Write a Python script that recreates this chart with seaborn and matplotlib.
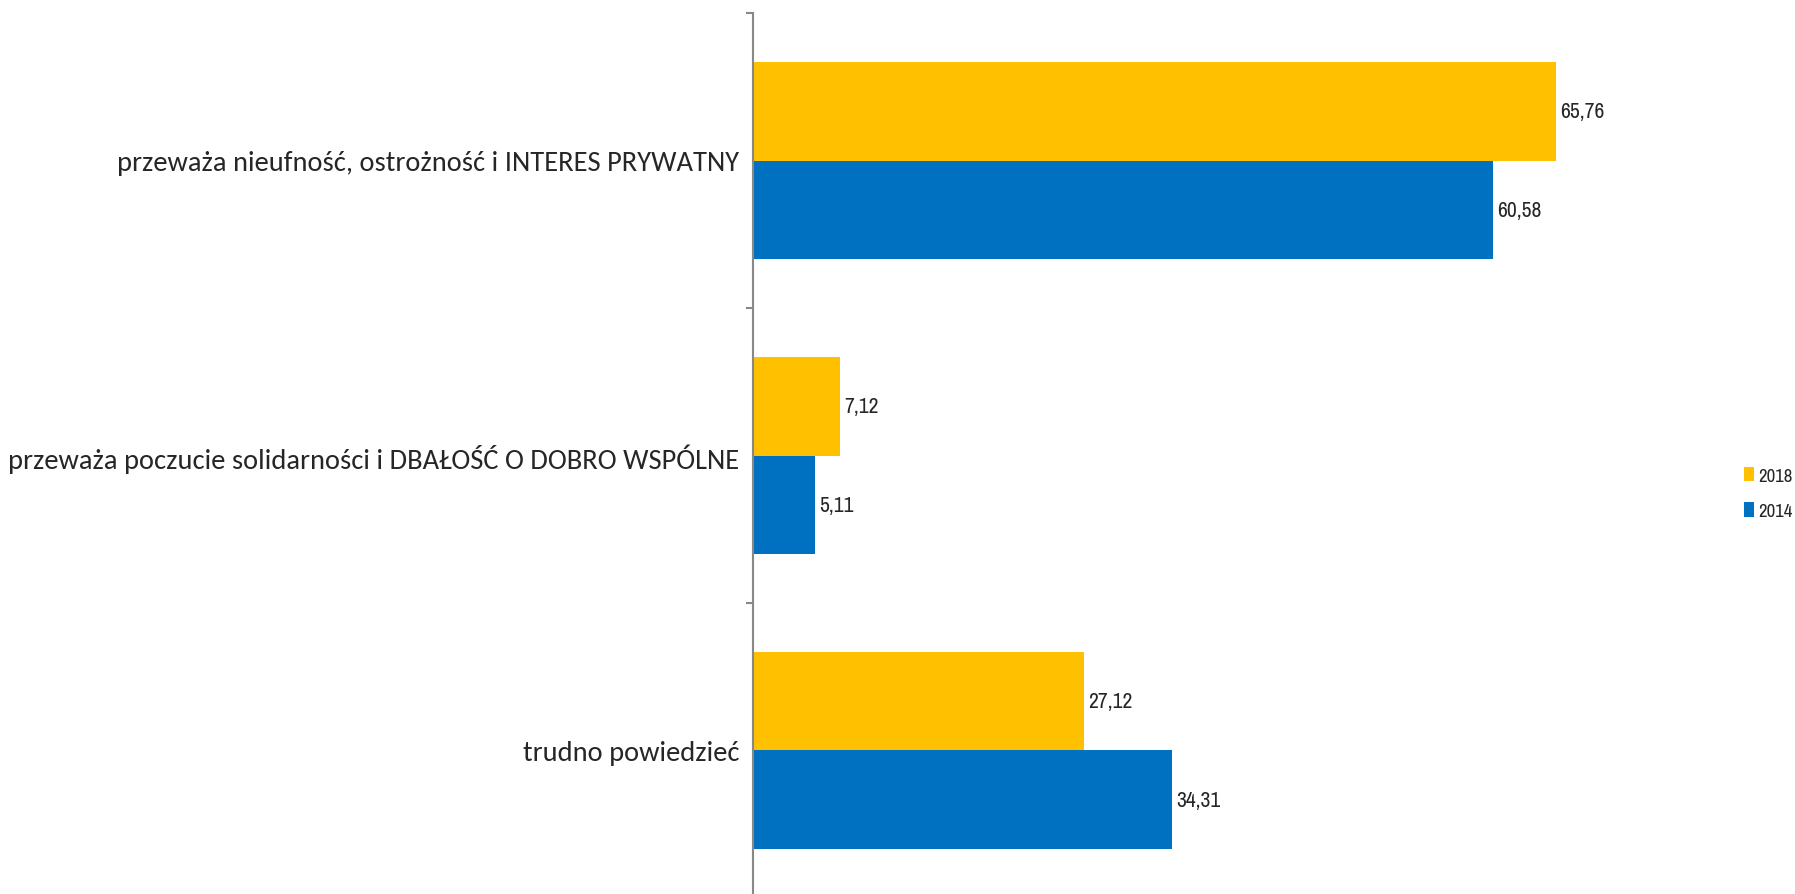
import pandas as pd
import numpy as np
import matplotlib.pyplot as plt
import seaborn as sb

categories = ["przeważa nieufność, ostrożność i INTERES PRYWATNY",
              "przeważa poczucie solidarności i DBAŁOŚĆ O DOBRO WSPÓLNE",
              "trudno powiedzieć"]
years = ["2018", "2014"]
vals_2018 = [65.76, 7.12, 27.12]
vals_2014 = [60.58, 5.11, 34.31]
colors = {"2018": "#FFC000", "2014": "#0070C0"}

df = pd.DataFrame({
    "kategoria": categories * 2,
    "rok": ["2018"] * 3 + ["2014"] * 3,
    "wartosc": vals_2018 + vals_2014,
})

sb.set_style("white")
narrow = ["Archivo Narrow", "DejaVu Sans"]
calibri = ["Carlito", "DejaVu Sans"]

fig = plt.figure(figsize=(17.95, 8.95), dpi=100)
ax = fig.add_axes([753 / 1795, 1 - 899 / 895, 855 / 1795, 885 / 895])

sb.barplot(data=df, y="kategoria", x="wartosc", hue="rok", hue_order=years,
           palette=colors, orient="h", width=0.665, saturation=1, ax=ax,
           order=categories, legend=True, linewidth=0)

for cont in ax.containers:
    labels = [f"{v:.2f}".replace(".", ",") for v in cont.datavalues]
    ax.bar_label(cont, labels=labels, padding=3, fontsize=15.5, family=narrow)

ax.set_xlim(0, 70)
ax.set_ylim(2.5, -0.5)
ax.set_xlabel("")
ax.set_ylabel("")
ax.set_xticks([])
ax.set_yticks(range(3))
ax.set_yticklabels(categories, fontsize=20.5, family=calibri)
ax.tick_params(axis="y", which="major", length=0, pad=10)
ax.set_yticks([-0.5, 0.5, 1.5, 2.5], minor=True)
ax.tick_params(axis="y", which="minor", length=5, width=1.5, color="#888888", left=True)

for s in ["top", "right", "bottom"]:
    ax.spines[s].set_visible(False)
ax.spines["left"].set_color("#888888")
ax.spines["left"].set_linewidth(1.5)

leg = ax.legend(loc="center left", bbox_to_anchor=(1727 / 1795, 1 - 494 / 895), bbox_transform=fig.transFigure,
                frameon=False, handlelength=0.55, handleheight=0.8, handletextpad=0.2,
                labelspacing=1.0, prop={"family": narrow, "size": 13.5})

fig.savefig("out.png", dpi=100)
